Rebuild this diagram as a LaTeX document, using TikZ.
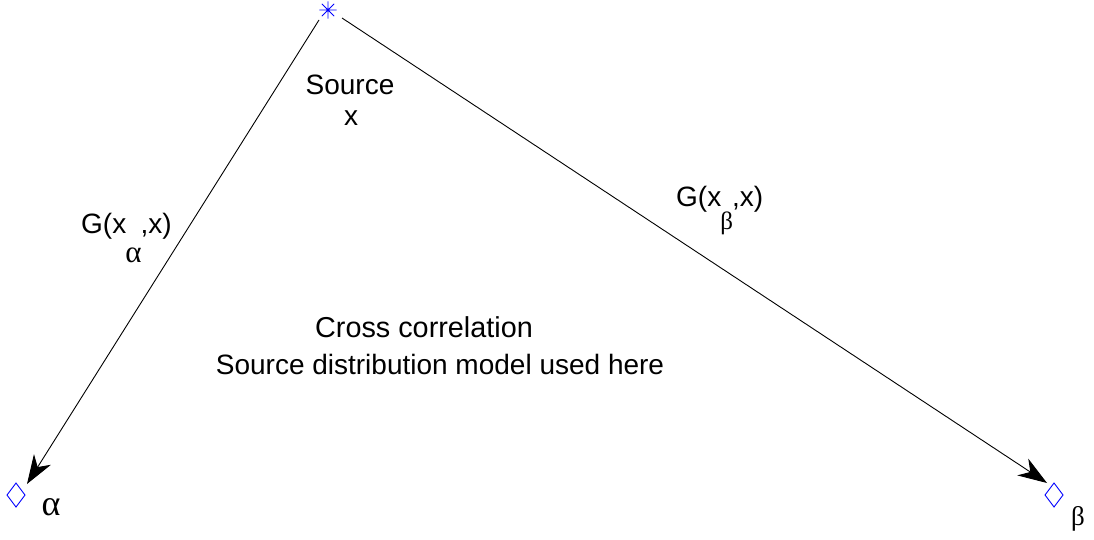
\documentclass[tikz,border=0pt]{standalone}
\usepackage{fontspec}
\setmainfont{Liberation Sans}
\newfontfamily\grk{Liberation Serif}
\usetikzlibrary{arrows.meta,calc}
\definecolor{mblue}{RGB}{0,0,255}
\newcommand{\subgrk}[3]{\kern-1pt\raisebox{-#1pt}{\fontsize{#2}{#2}\grk #3}\kern-1pt}
\begin{document}
\begin{tikzpicture}[x=1pt,y=-1pt,
  lbl/.style={font=\fontsize{28}{34}\selectfont, inner sep=0pt},
  grklbl/.style={font=\fontsize{27}{32}\grk, inner sep=0pt},
  conn/.style={line width=0.9pt, -{Stealth[length=29pt,width=20pt,inset=9pt]}},
  mk/.style={draw=none, inner sep=0pt, minimum size=17pt}]
\useasboundingbox (0,0) rectangle (1094,540);
% markers as nodes
\node[mk,shape=circle] (src) at (328,10) {};
\node[mk] (ma) at (16,495) {};
\node[mk] (mb) at (1054,495) {};
\draw[mblue, line width=0.9pt] (src.north) -- (src.south) (src.west) -- (src.east)
  (src.north west) -- (src.south east) (src.north east) -- (src.south west);
\draw[mblue, line width=0.9pt] ($(ma)+(0,-12)$) -- ($(ma)+(9,0)$) -- ($(ma)+(0,12)$) -- ($(ma)+(-9,0)$) -- cycle;
\draw[mblue, line width=0.9pt] ($(mb)+(0,-12)$) -- ($(mb)+(9,0)$) -- ($(mb)+(0,12)$) -- ($(mb)+(-9,0)$) -- cycle;
% connectors
\coordinate (la) at (319,20);
\coordinate (lb) at (27,484);
\coordinate (ra) at (342,18);
\coordinate (rb) at (1047,483);
\draw[conn] (la) -- (lb);
\draw[conn] (ra) -- (rb);
% labels
\node[lbl, anchor=base] (srct) at (350,95) {Source};
\node[lbl, anchor=base] (srcx) at (351,126) {x};
\node[lbl, anchor=base west] (ga) at (81,233) {G(x\subgrk{29}{31}{α},x)};
\node[lbl, anchor=base west] (gb) at (676,207) {G(x\subgrk{23}{25}{β},x)};
\node[lbl, anchor=base, font=\fontsize{28.8}{34}\selectfont] (cc1) at (424,337) {Cross correlation};
\node[lbl, anchor=base] (cc2) at (440,374) {Source distribution model used here};
\node[grklbl, anchor=base, font=\fontsize{36}{40}\grk] (al) at (51,515) {α};
\node[grklbl, anchor=base] (be) at (1078,525) {β};
\end{tikzpicture}
\end{document}
